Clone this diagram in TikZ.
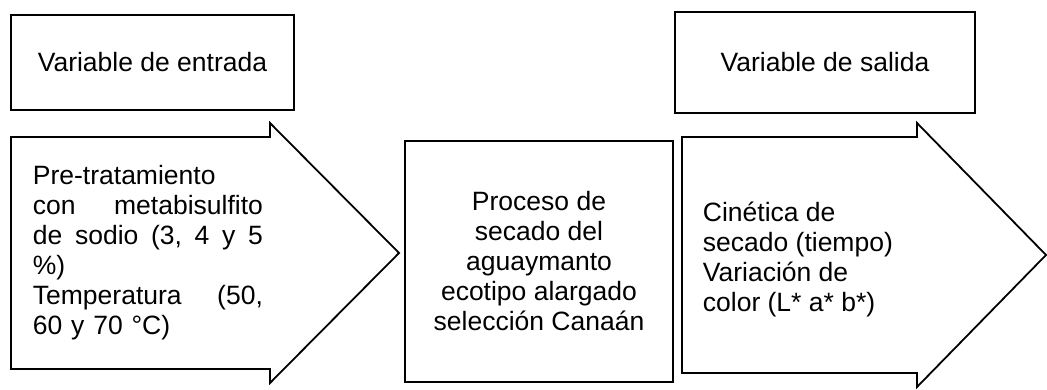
\documentclass[tikz,border=0pt]{standalone}
\usepackage{fontspec}
\setmainfont{Liberation Sans}
\begin{document}
\begin{tikzpicture}[x=1pt, y=1pt, line width=1.8pt,
  box/.style={draw, line join=miter},
  txt/.style={inner sep=0pt, font=\fontsize{26.5}{30}\selectfont}]
\useasboundingbox (0,0) rectangle (1047,390);
% top labels
\draw[box] (11,280) rectangle (294,375);
\node[txt] (entrada) at (152.5,327.5) {Variable de entrada};
\draw[box] (675,277) rectangle (975,378);
\node[txt] (salida) at (825,327.5) {Variable de salida};
% input arrow
\draw[box] (11,253) -- (270,253) -- (270,267) -- (399,137) -- (270,7) -- (270,21) -- (11,21) -- cycle;
\node[txt, text width=230pt, align=left, anchor=west] (pretrat) at (32,137) {Pre-tratamiento\\
con\hfill metabisulfito\\
de\hfill sodio\hfill (3,\hfill 4\hfill y\hfill 5\\
\%)\\
Temperatura\hfill (50,\\
60 y 70 °C)};
% process
\draw[box] (405,8) rectangle (673,249);
\node[txt, align=center] (proceso) at (539,128.5) {Proceso de\\ secado del\\ aguaymanto\\ ecotipo alargado\\ selección Canaán};
% output arrow
\draw[box] (682,253) -- (917,253) -- (917,267) -- (1046,135) -- (917,3) -- (917,17) -- (682,17) -- cycle;
\node[txt, align=left, anchor=west] (cinetica) at (702,131) {Cinética de\\ secado (tiempo)\\ Variación de\\ color (L* a* b*)};
\end{tikzpicture}
\end{document}
